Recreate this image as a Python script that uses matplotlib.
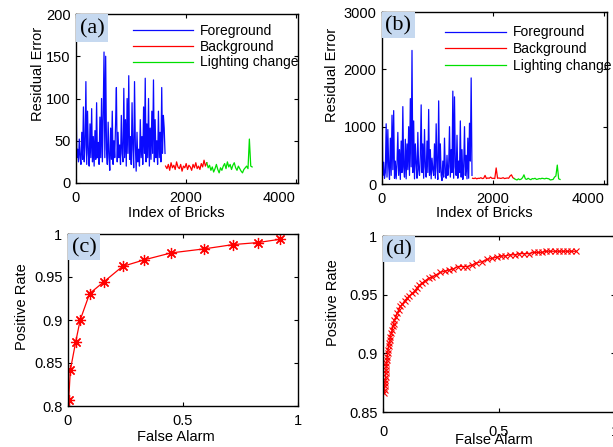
import numpy as np
import matplotlib
matplotlib.use("Agg")
import matplotlib.pyplot as plt
from matplotlib.patches import Rectangle

plt.rcParams['font.family'] = ['Liberation Sans', 'DejaVu Sans']
plt.rcParams['font.size'] = 10

# ---------------------------------------------------------
# Data
# ---------------------------------------------------------
# (a) residual error per brick
fg_a_x = np.arange(0, 1635, 15)
fg_a = [115, 30, 40, 25, 52, 30, 22, 60, 28, 90, 25, 45, 120, 22, 85, 35, 20, 70, 30, 88,
        25, 55, 20, 62, 28, 95, 30, 48, 22, 78, 30, 100, 25, 80, 155, 30, 150, 40, 22, 72,
        30, 15, 65, 28, 85, 22, 50, 30, 70, 113, 25, 60, 30, 45, 22, 80, 35, 25, 112, 30,
        75, 20, 100, 35, 127, 28, 55, 22, 95, 40, 18, 120, 45, 14, 60, 25, 40, 20, 75, 30,
        55, 22, 90, 35, 124, 25, 70, 30, 100, 20, 65, 28, 85, 35, 122, 25, 75, 30, 50, 22,
        85, 30, 60, 25, 113, 35, 80, 65, 35]
bg_a_x = np.arange(1630, 2400, 25)
bg_a = [20, 17, 22, 15, 24, 18, 21, 16, 25, 19, 17, 22, 14, 20, 18, 23, 16, 21, 19, 15,
        22, 18, 24, 17, 20, 16, 23, 19, 27, 20, 24]
lc_a_x = np.arange(2380, 3220, 25)
lc_a = [24, 18, 21, 15, 19, 13, 17, 22, 16, 12, 18, 15, 20, 23, 17, 25, 19, 22, 16, 21,
        24, 18, 15, 20, 17, 14, 12, 16, 18, 20, 17, 52, 20, 19]

# (b) residual error per brick
fg_b_x = np.arange(0, 1635, 15)
fg_b = [1350, 150, 380, 100, 200, 1050, 120, 950, 300, 80, 800, 150, 1200, 250, 1280, 100,
        400, 90, 350, 900, 150, 600, 80, 750, 200, 1350, 300, 120, 780, 90, 700, 250, 1000,
        150, 1490, 300, 2330, 200, 1100, 90, 700, 350, 100, 900, 250, 150, 500, 1380, 200,
        700, 100, 950, 300, 120, 750, 200, 1300, 150, 600, 90, 450, 250, 150, 700, 100, 1050,
        300, 80, 1450, 200, 700, 150, 60, 400, 120, 800, 200, 100, 500, 150, 300, 1000, 120,
        600, 200, 1620, 100, 1520, 300, 150, 850, 100, 400, 200, 1100, 120, 600, 80, 300,
        1000, 150, 500, 90, 800, 100, 1060, 400, 1850, 150]
bg_b_x = np.arange(1630, 2400, 25)
bg_b = [100, 95, 105, 90, 100, 98, 110, 95, 100, 150, 95, 105, 100, 120, 98, 100, 95, 280,
        100, 105, 98, 100, 110, 95, 100, 105, 100, 140, 160, 110, 95]
lc_b_x = np.arange(2380, 3220, 25)
lc_b = [95, 80, 70, 90, 75, 85, 110, 160, 90, 80, 100, 85, 75, 95, 90, 100, 80, 85, 95, 90,
        100, 95, 90, 100, 95, 90, 70, 75, 80, 120, 140, 330, 90, 80]

# (c) ROC points
roc_c_fa = [0.003, 0.010, 0.033, 0.053, 0.094, 0.155, 0.237, 0.332, 0.448, 0.592, 0.718,
            0.824, 0.920]
roc_c_pr = [0.8065, 0.8415, 0.874, 0.900, 0.9308, 0.9442, 0.9623, 0.970, 0.978, 0.9827,
            0.9877, 0.990, 0.9938]

# (d) ROC points
roc_d_fa = [0.006, 0.007, 0.008, 0.009, 0.010, 0.011, 0.012, 0.013, 0.014, 0.015, 0.017,
            0.019, 0.020, 0.022, 0.024, 0.027, 0.030, 0.032, 0.036, 0.040, 0.042, 0.046,
            0.049, 0.055, 0.061, 0.068, 0.075, 0.084, 0.094, 0.104, 0.114, 0.125, 0.137,
            0.147, 0.157, 0.170, 0.183, 0.197, 0.212, 0.230, 0.248, 0.266, 0.284, 0.304,
            0.324, 0.344, 0.363, 0.383, 0.402, 0.426, 0.450, 0.472, 0.493, 0.511, 0.529,
            0.549, 0.569, 0.589, 0.608, 0.630, 0.651, 0.669, 0.687, 0.705, 0.723, 0.741,
            0.759, 0.777, 0.795, 0.814, 0.834]
roc_d_pr = [0.866, 0.869, 0.872, 0.875, 0.877, 0.880, 0.883, 0.886, 0.889, 0.892, 0.894,
            0.897, 0.900, 0.903, 0.906, 0.909, 0.911, 0.914, 0.917, 0.920, 0.923, 0.925,
            0.928, 0.931, 0.934, 0.937, 0.940, 0.942, 0.945, 0.947, 0.949, 0.951, 0.953,
            0.956, 0.958, 0.960, 0.962, 0.964, 0.965, 0.967, 0.969, 0.970, 0.971, 0.972,
            0.974, 0.974, 0.974, 0.975, 0.977, 0.978, 0.980, 0.981, 0.982, 0.983, 0.983,
            0.984, 0.984, 0.985, 0.985, 0.985, 0.986, 0.986, 0.986, 0.987, 0.987, 0.987,
            0.987, 0.987, 0.987, 0.987, 0.987]

W, H = 613, 447
BLUE = '#0a0aff'
RED = '#ff0000'
GREEN = '#00e000'
TAG_BG = '#c6d9f0'
ASTERISK = (8, 2, 0)   # 8-spoke asterisk, like the MATLAB '*'


def px_axes(fig, l, t, r, b):
    """Axes placed by pixel edges (left, top, right, bottom)."""
    return fig.add_axes([l / W, 1 - b / H, (r - l) / W, (b - t) / H])


def style(ax, xticks, xlabels, yticks, ylabels, xpad=6, last_right=False):
    ax.set_xticks(xticks)
    ax.set_xticklabels(xlabels)
    ax.set_yticks(yticks)
    ax.set_yticklabels(ylabels)
    ax.tick_params(direction='in', top=True, right=True, length=3, width=0.8,
                   labelsize=10.5)
    ax.tick_params(axis='x', pad=xpad)
    ax.tick_params(axis='y', pad=4)
    for s in ax.spines.values():
        s.set_linewidth(1.0)
    if last_right:
        # the last x label sits left of its tick in the original
        ax.get_xticklabels()[-1].set_ha('right')


def add_tag(ax, text, wpx=32, hpx=27):
    bb = ax.get_position()
    w = wpx / (bb.width * W)
    h = hpx / (bb.height * H)
    ax.add_patch(Rectangle((0, 1 - h), w, h, transform=ax.transAxes,
                           facecolor=TAG_BG, edgecolor='none', zorder=3))
    ax.text(w / 2, 1 - h / 2 - 0.005, text, transform=ax.transAxes, ha='center',
            va='center', fontsize=16, family='Liberation Serif', zorder=4)


def labels(ax, xl, xpos, yl, ypos):
    ax.set_xlabel(xl, fontsize=10.5)
    ax.set_ylabel(yl, fontsize=10.5)
    ax.xaxis.set_label_coords(*xpos)
    ax.yaxis.set_label_coords(*ypos)
    ax.xaxis.label.set_va('center')
    ax.yaxis.label.set_va('center')


fig = plt.figure(figsize=(W / 100, H / 100), dpi=100)

# ---------------------------------------------------------
# (a)
# ---------------------------------------------------------
ax = px_axes(fig, 76, 14, 298, 183)
ax.plot(fg_a_x, fg_a, color=BLUE, lw=0.9, label='Foreground')
ax.plot(bg_a_x, bg_a, color=RED, lw=0.9, label='Background')
ax.plot(lc_a_x, lc_a, color=GREEN, lw=0.9, label='Lighting change')
ax.set_xlim(0, 4040)
ax.set_ylim(0, 200)
style(ax, [0, 2000, 4000], ['0', '2000', '4000'],
      [0, 50, 100, 150, 200], ['0', '50', '100', '150', '200'], last_right=True)
labels(ax, 'Index of Bricks', (0.45, -0.178), 'Residual Error', (-0.171, 0.645))
ax.legend(loc='upper left', bbox_to_anchor=(0.257, 0.94), frameon=False,
          borderpad=0, borderaxespad=0, handlelength=4.3, handletextpad=0.5,
          labelspacing=0.12, fontsize=10)
add_tag(ax, '(a)', 32, 28)

# ---------------------------------------------------------
# (b)
# ---------------------------------------------------------
ax = px_axes(fig, 382, 12, 607, 184)
ax.plot(fg_b_x, fg_b, color=BLUE, lw=0.9, label='Foreground')
ax.plot(bg_b_x, bg_b, color=RED, lw=0.9, label='Background')
ax.plot(lc_b_x, lc_b, color=GREEN, lw=0.9, label='Lighting change')
ax.set_xlim(0, 4050)
ax.set_ylim(0, 3000)
style(ax, [0, 2000, 4000], ['0', '2000', '4000'],
      [0, 1000, 2000, 3000], ['0', '1000', '2000', '3000'], last_right=True)
labels(ax, 'Index of Bricks', (0.453, -0.169), 'Residual Error', (-0.224, 0.634))
ax.legend(loc='upper left', bbox_to_anchor=(0.28, 0.922), frameon=False,
          borderpad=0, borderaxespad=0, handlelength=4.4, handletextpad=0.5,
          labelspacing=0.2, fontsize=10)
add_tag(ax, '(b)', 33, 26)

# ---------------------------------------------------------
# (c)
# ---------------------------------------------------------
ax = px_axes(fig, 68, 234, 298, 406)
ax.plot(roc_c_fa, roc_c_pr, color=RED, lw=0.9, marker=ASTERISK, ms=8, mew=0.9)
ax.set_xlim(0, 1)
ax.set_ylim(0.8, 1)
style(ax, [0, 0.5, 1], ['0', '0.5', '1'],
      [0.8, 0.85, 0.9, 0.95, 1], ['0.8', '0.85', '0.9', '0.95', '1'])
labels(ax, 'False Alarm', (0.47, -0.18), 'Positive Rate', (-0.2, 0.576))
add_tag(ax, '(c)', 32, 26)

# ---------------------------------------------------------
# (d)
# ---------------------------------------------------------
ax = px_axes(fig, 383, 236, 614.5, 412)
ax.plot(roc_d_fa, roc_d_pr, color=RED, lw=0.9, marker='x', ms=5, mew=0.8)
ax.set_xlim(0, 1)
ax.set_ylim(0.85, 1)
style(ax, [0, 0.5, 1], ['0', '0.5', '1'],
      [0.85, 0.9, 0.95, 1], ['0.85', '0.9', '0.95', '1'], xpad=9)
labels(ax, 'False Alarm', (0.478, -0.159), 'Positive Rate', (-0.217, 0.62))
add_tag(ax, '(d)', 32, 26)

fig.savefig('out.png', dpi=100)
